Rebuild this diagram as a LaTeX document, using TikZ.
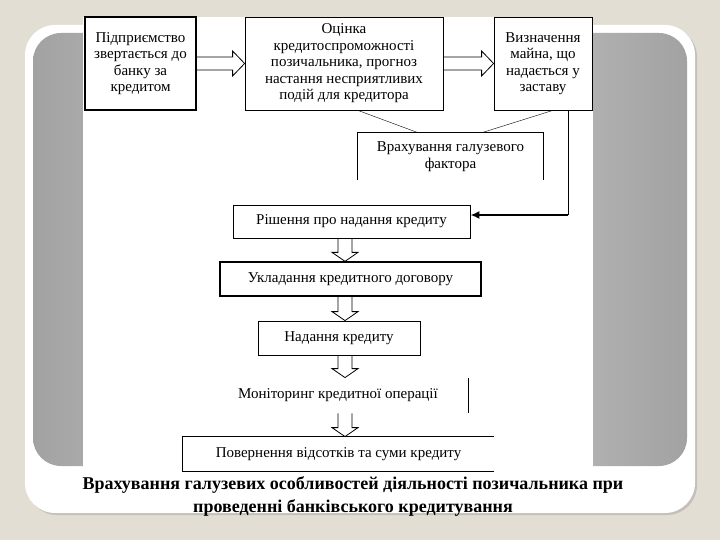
\documentclass[tikz,border=0pt]{standalone}
\usepackage{fontspec}
\setmainfont{Liberation Serif}
\usetikzlibrary{arrows.meta,positioning,calc}
\definecolor{slidebg}{HTML}{E3DED4}
\definecolor{frameshade}{HTML}{C4C0B7}
\definecolor{panelgrey}{HTML}{A2A2A2}
\definecolor{panellight}{HTML}{D2D2D2}

% hollow block arrows between boxes
\newcommand{\sidearrow}[2]{%
  \draw[hollow] let \p1=(#1.east), \p2=(#2.west) in
    (\x1,\y1+6.5pt) -- (\x2-12pt,\y1+6.5pt) -- (\x2-12pt,\y1+12.5pt) -- (\x2,\y1)
    -- (\x2-12pt,\y1-12.5pt) -- (\x2-12pt,\y1-6.5pt) -- (\x1,\y1-6.5pt);}
\newcommand{\flowdown}[2]{%
  \draw[hollow] let \p1=(spine |- #1.south), \p2=(spine |- #2.north) in
    (\x1-7pt,\y1) -- (\x1-7pt,\y2+9pt) -- (\x1-13pt,\y2+9pt) -- (\x1,\y2)
    -- (\x1+13pt,\y2+9pt) -- (\x1+7pt,\y2+9pt) -- (\x1+7pt,\y1);}

\begin{document}
\begin{tikzpicture}[x=1pt, y=-1pt,
    box/.style={draw, line width=0.8pt, align=center, inner sep=0pt,
                font=\fontsize{15}{16.5}\selectfont},
    hollow/.style={draw, line width=0.8pt},
    feed/.style={-{Latex[length=9pt,width=8pt]}, line width=1.8pt}
]
% slide background
\fill[slidebg] (0,0) rectangle (720,540);
\fill[frameshade, rounded corners=30pt] (27,27) rectangle (697,515);
\fill[white, rounded corners=30pt] (25,25) rectangle (695,513);
\shade[left color=panelgrey, right color=panelgrey, middle color=panellight,
       rounded corners=28pt] (33,33) rectangle (687,466);
\fill[white] (83,17) rectangle (593,467);

% top row
\node[box, line width=1.6pt, minimum width=111pt, minimum height=93pt] (firm) at (140.5,63.5)
  {Підприємство\\звертається до\\банку за\\кредитом};
\node[box, minimum width=198pt, minimum height=93pt] (assess) at (344,63.5)
  {Оцінка\\кредитоспроможності\\позичальника, прогноз\\настання несприятливих\\подій для кредитора};
\node[box, minimum width=98pt, minimum height=93pt] (pledge) at (543,63.5)
  {Визначення\\майна, що\\надається у\\заставу};
\sidearrow{firm}{assess}
\sidearrow{assess}{pledge}

% sector factor
\node[box, draw=none, minimum width=185pt, minimum height=47pt] (sector) at (450.5,156.5)
  {Врахування галузевого\\фактора};
\draw[line width=0.8pt] (sector.south west) -- (sector.north west) -- (sector.north east) -- (sector.south east);
\draw[thin] ($(assess.south west)!0.57!(assess.south east)$) -- ($(sector.north west)!0.324!(sector.north east)$);
\draw[thin] ($(pledge.south west)!0.6!(pledge.south east)$) -- ($(sector.north west)!0.67!(sector.north east)$);

% main column
\coordinate (spine) at (345,0);
\node[box, minimum width=237pt, minimum height=33pt] (decide) at (351.5,221.5)
  {Рішення про надання кредиту};
\node[box, line width=1.3pt, minimum width=261pt, minimum height=34pt] (contract) at (350.5,279)
  {Укладання кредитного договору};
\node[box, minimum width=162pt, minimum height=34pt] (grant) at (339,338)
  {Надання кредиту};
\node[box, draw=none, minimum width=260pt, minimum height=35pt] (monitor) at (338,395.5)
  {Моніторинг кредитної операції};
\draw[line width=0.8pt] (monitor.north east) -- (monitor.south east);
\node[box, draw=none, minimum width=311pt, minimum height=34pt] (repay) at (338.5,454)
  {Повернення відсотків та суми кредиту};
\draw[line width=0.8pt] (repay.north east) -- (repay.north west) -- (repay.south west) -- (repay.south east);
\flowdown{decide}{contract}
\flowdown{contract}{grant}
\flowdown{grant}{monitor}
\flowdown{monitor}{repay}

% pledge feeds the decision
\coordinate (bend) at (568,215);
\draw[line width=0.8pt] (pledge.south -| bend) -- (bend);
\draw[feed] (bend) -- (decide.east |- bend);

% caption
\node[font=\bfseries\fontsize{18}{23}\selectfont, align=center] (caption) at (353,496.5)
  {Врахування галузевих особливостей діяльності позичальника при\\проведенні банківського кредитування};
\end{tikzpicture}
\end{document}
